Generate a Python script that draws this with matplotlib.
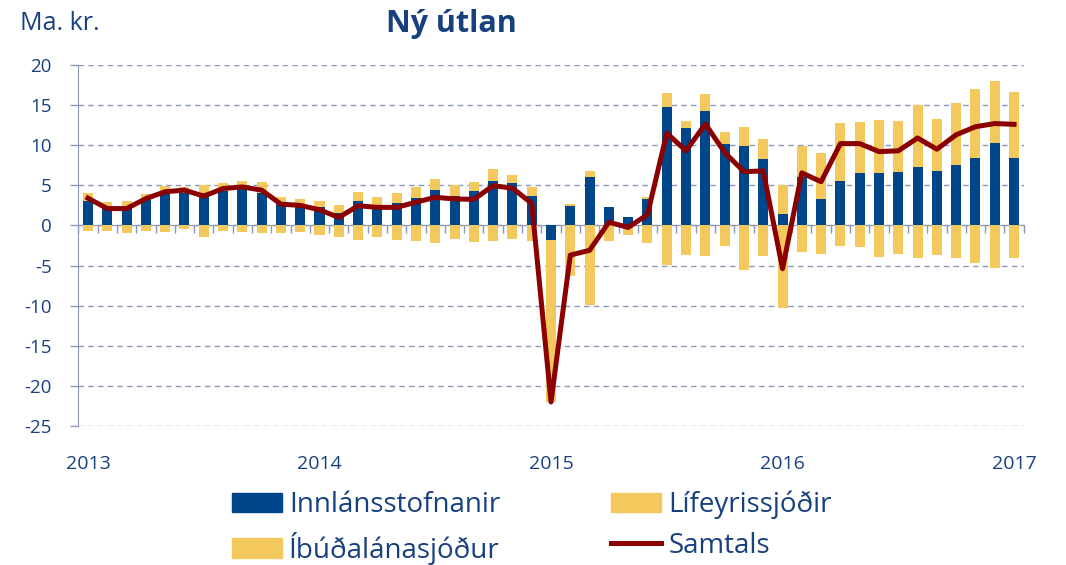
import matplotlib
matplotlib.use('Agg')
import matplotlib.pyplot as plt
import numpy as np
from matplotlib.lines import Line2D
from matplotlib.patches import Patch

# Monthly new lending, Jan 2013 - Jan 2017 (ma. kr.)
months = [f'{y}-{m:02d}' for y in range(2013, 2017) for m in range(1, 13)] + ['2017-01']

innlan = [3.1, 2.25, 2.25, 3.3, 3.9, 4.1, 4.1, 4.3, 4.5, 4.1, 2.7, 2.25,
          2.25, 1.5, 3.1, 2.6, 2.75, 3.4, 4.45, 3.7, 4.3, 5.5, 5.25, 3.7,
          -1.8, 2.4, 6.0, 2.33, 1.0, 3.3, 14.75, 12.1, 14.3, 10.2, 9.9, 8.3,
          1.4, 6.0, 3.3, 5.6, 6.55, 6.55, 6.6, 7.3, 6.8, 7.5, 8.45, 10.3,
          8.4]
lifeyris = [0.9, 0.65, 0.85, 0.6, 1.0, 0.7, 0.9, 0.95, 1.0, 1.3, 0.9, 1.05,
            0.85, 1.0, 1.1, 1.0, 1.25, 1.4, 1.35, 1.3, 1.1, 1.5, 1.05, 1.05,
            -1.8, 0.25, 0.8, 0.0, 0.0, 0.3, 1.75, 0.9, 2.1, 1.5, 2.4, 2.5,
            3.6, 3.9, 5.7, 7.15, 6.4, 6.65, 6.4, 7.7, 6.5, 7.8, 8.55, 7.65,
            8.25]
ibudalan = [-0.67, -0.75, -0.9, -0.67, -0.8, -0.45, -1.4, -0.67, -0.8, -1.0, -1.0, -0.8,
            -1.2, -1.5, -1.8, -1.4, -1.8, -1.9, -2.25, -1.7, -2.1, -2.0, -1.7, -2.0,
            -18.4, -6.3, -9.9, -1.9, -1.2, -2.25, -4.9, -3.7, -3.75, -2.6, -5.5, -3.8,
            -10.3, -3.3, -3.5, -2.55, -2.7, -3.9, -3.6, -4.1, -3.7, -4.05, -4.7, -5.25,
            -4.0]
samtals = [3.4, 2.1, 2.1, 3.35, 4.2, 4.4, 3.65, 4.6, 4.8, 4.4, 2.65, 2.5,
           1.95, 1.0, 2.45, 2.25, 2.25, 2.9, 3.5, 3.3, 3.25, 4.95, 4.65, 2.75,
           -22.0, -3.7, -3.1, 0.4, -0.25, 1.35, 11.5, 9.3, 12.65, 9.1, 6.7, 6.8,
           -5.4, 6.55, 5.45, 10.2, 10.2, 9.2, 9.3, 10.9, 9.5, 11.3, 12.3, 12.7,
           12.6]
year_labels = ['2013', '2014', '2015', '2016', '2017']

BLUE = '#00468b'
YELLOW = '#f3c85c'
RED = '#8b0000'
TEXT = '#17407f'
GRID = '#8d98b8'

plt.rcParams['font.family'] = ['Open Sans', 'DejaVu Sans']
plt.rcParams['axes.unicode_minus'] = False

fig = plt.figure(figsize=(10.66, 5.65), dpi=100)
ax = fig.add_axes([0.0735, 0.246, 0.8868, 0.639])

x = np.arange(len(months))
width = 0.52
pos_bottom = np.zeros(len(x))
neg_bottom = np.zeros(len(x))
for series, color in [(innlan, BLUE), (lifeyris, YELLOW), (ibudalan, YELLOW)]:
    vals = np.array(series)
    bottom = np.where(vals >= 0, pos_bottom, neg_bottom)
    ax.bar(x, vals, width, bottom=bottom, color=color, zorder=2)
    pos_bottom += np.clip(vals, 0, None)
    neg_bottom += np.clip(vals, None, 0)

ax.plot(x, samtals, color=RED, lw=3.6, zorder=3, solid_joinstyle='round')

ax.set_xlim(-0.5, len(x) - 0.5)
ax.set_ylim(-25, 20)
ax.set_yticks(range(-25, 21, 5))
ax.yaxis.grid(True, color=GRID, ls=(0, (4, 3)), lw=1)
ax.set_axisbelow(True)
ax.tick_params(axis='y', colors=GRID, labelcolor=TEXT, labelsize=13.5,
               length=6, width=1, pad=13)

for s in ['top', 'right']:
    ax.spines[s].set_visible(False)
ax.spines['left'].set_color(GRID)
ax.spines['bottom'].set_color(GRID)
ax.spines['bottom'].set_position(('data', 0))
ax.spines['bottom'].set_zorder(1)

# boundary ticks on the zero line
ax.set_xticks(np.arange(-0.5, len(x), 1))
ax.set_xticklabels([])
ax.tick_params(axis='x', colors=GRID, length=6, width=1, direction='out')

# year labels at the bottom
sec = ax.secondary_xaxis('bottom')
sec.set_xticks(x[::12])
sec.set_xticklabels(year_labels)
sec.tick_params(length=0, labelsize=14, labelcolor=TEXT, pad=21)
sec.spines['bottom'].set_visible(False)

fig.text(0.019, 0.958, 'Ma. kr.', fontsize=18, color=TEXT, va='center')
fig.text(0.423, 0.958, 'Ný útlan', fontsize=22, fontweight='bold', color=TEXT,
         va='center', ha='center')

handles = [Patch(color=BLUE), Patch(color=YELLOW), Patch(color=YELLOW),
           Line2D([], [], color=RED, lw=3.6)]
labels = ['Innlánsstofnanir', 'Íbúðalánasjóður', 'Lífeyrissjóðir', 'Samtals']
fig.legend(handles, labels, ncol=2, loc='center', bbox_to_anchor=(0.499, 0.066),
           frameon=False, fontsize=20, labelcolor=TEXT, handlelength=1.8,
           handletextpad=0.25, columnspacing=4.0, labelspacing=0.45,
           borderpad=0)

fig.savefig('out.png', dpi=100)
